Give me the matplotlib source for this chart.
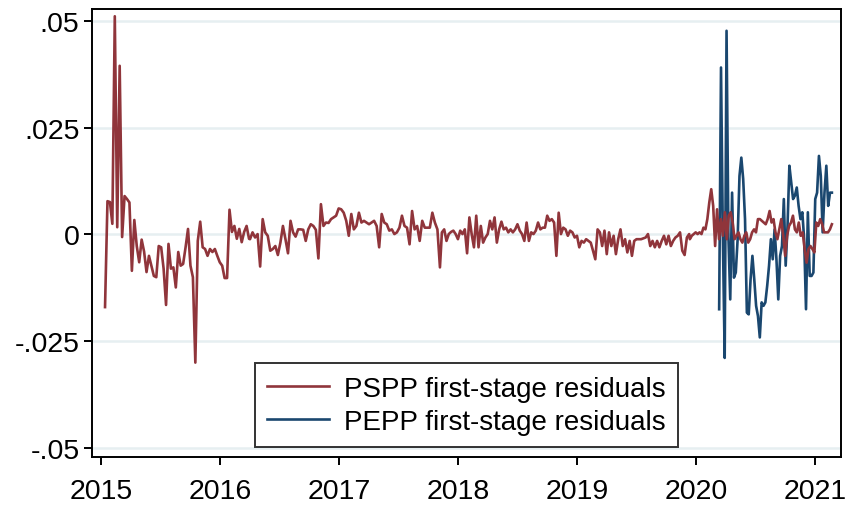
import numpy as np
import pandas as pd
import matplotlib
matplotlib.use("Agg")
import matplotlib.pyplot as plt

# PSPP first-stage residuals in four stretches (start, end, values)
pspp_1 = ("2015-01-13", "2016-03-30",
          [-0.017, 0.0078, 0.0076, 0.0025, 0.0511, 0.0017, 0.0395, -0.0006, 0.009, 0.0083,
           0.0075, -0.0085, 0.0034, -0.0027, -0.0065, -0.0012, -0.004, -0.0088, -0.005, -0.0073,
           -0.0097, -0.010, -0.0027, -0.003, -0.008, -0.0165, -0.0022, -0.008, -0.0077, -0.0124,
           -0.0041, -0.0073, -0.0069, -0.003, 0.0013, -0.0073, -0.010, -0.030, -0.0015, 0.003,
           -0.003, -0.0034, -0.005, -0.0034, -0.0041, -0.0034, -0.005, -0.0065, -0.0073, -0.0102,
           -0.0102, 0.0058, 0.0006, 0.002, -0.001, 0.0013, -0.0018, 0.0006, 0.002, -0.001])
pspp_2 = ("2016-04-02", "2017-11-06",
          [-0.0011, 0.0005, -0.0007, 0.0001, -0.0075, 0.0036, 0.0005, -0.0003, -0.0038, -0.0034,
           -0.0027, -0.0048, -0.0019, 0.002, -0.0011, -0.0044, 0.0032, 0.0005, -0.0005, 0.0012,
           0.0012, 0.0011, -0.0015, 0.0012, 0.0024, 0.002, 0.0011, -0.0056, 0.0071, 0.002,
           0.0028, 0.0027, 0.0036, 0.004, 0.0044, 0.0061, 0.0059, 0.0051, 0.0032, -0.0003,
           0.0048, 0.0012, 0.002, 0.0051, 0.0028, 0.0032, 0.0028, 0.0024, 0.0028, 0.0032,
           0.002, -0.003, 0.0048, 0.0028, 0.0024, 0.0009, 0.0012, 0.0001, 0.0005, 0.0016,
           0.0044, 0.002, 0.0016, -0.0023, 0.0055, 0.0012, 0.002, -0.0015, 0.0032, 0.0016,
           0.0016, 0.0016, 0.0051, 0.0028, 0.0012, -0.0077])
pspp_3 = ("2017-11-12", "2019-12-11",
          [0.0005, 0.0012, -0.0015, 0.0001, 0.0006, 0.0009, 0.0001, -0.0011, 0.0009, 0.0001,
           0.0012, -0.0044, 0.004, 0.0001, -0.003, 0.0044, -0.003, 0.002, -0.0019, -0.0007,
           0.0001, 0.0032, 0.0012, 0.004, -0.0019, 0.0012, 0.003, 0.0012, 0.0016, 0.0005,
           0.0012, 0.0005, 0.0012, 0.0024, 0.0009, 0.0001, -0.0015, 0.0028, -0.0015, 0.0005,
           0.0001, 0.0009, 0.0028, 0.0012, 0.0016, 0.0016, 0.0044, 0.0032, 0.0036, 0.0028,
           -0.005, 0.0051, 0.0001, 0.0016, 0.0012, -0.0003, 0.0009, 0.0005, -0.0007, -0.0003,
           -0.003, -0.0015, -0.0019, -0.0011, -0.0015, -0.0019, -0.0038, -0.0058, 0.0012, 0.0005,
           -0.0027, 0.0009, -0.0046, 0.0005, -0.0027, -0.0003, -0.0046, -0.0011, 0.0012, -0.0027,
           -0.0011, -0.0042, -0.0015, -0.005, -0.0015, -0.0011, -0.0011, -0.0011, -0.0009, -0.0007,
           0.0001, -0.0027, -0.0015, -0.003, -0.0015, -0.003, -0.0015, -0.0003, -0.0023, -0.0003,
           -0.0027, -0.0015, -0.0007, -0.0003, 0.0005, -0.0038, -0.0048, -0.0007, 0.0001])
pspp_4 = ("2019-12-13", "2021-02-21",
          [-0.0011, -0.0003, 0.0001, 0.0005, 0.0001, 0.0005, 0.0001, 0.0016, 0.0012, 0.0036,
           0.0075, 0.0106, 0.0067, -0.0027, 0.0059, -0.0011, 0.0036, -0.0003, 0.0052, -0.0011,
           0.0044, 0.0052, 0.0028, -0.0011, -0.0003, 0.0005, -0.0011, -0.0019, -0.0003, 0.0005,
           -0.0019, -0.0011, 0.0005, 0.0012, 0.0005, 0.0036, 0.0036, 0.0032, 0.0028, 0.0024,
           0.0036, 0.0055, 0.0028, 0.0036, 0.0005, -0.0011, 0.0012, 0.0036, -0.0003, -0.005,
           -0.0003, 0.002, 0.0028, 0.0044, 0.0012, 0.0005, 0.0028, -0.0003, 0.0005, -0.0034,
           -0.0066, -0.0034, -0.0027, -0.0034, -0.0042, 0.0028, 0.002, 0.0036, 0.0024, 0.0005,
           0.0005, 0.0005, 0.0012, 0.0024])

# PEPP first-stage residuals
pepp = ("2020-03-12", "2021-02-21",
        [-0.0175, 0.0391, -0.0003, -0.0289, 0.0477, -0.0003, -0.0152, 0.0098, -0.0101, -0.0089,
         -0.0011, 0.0137, 0.018, 0.013, 0.0036, -0.0183, -0.0187, -0.0105, -0.005, -0.0105,
         -0.0167, -0.0191, -0.0241, -0.0159, -0.0167, -0.0159, -0.012, -0.0073, -0.0011, -0.0058,
         0.0012, -0.0058, -0.0152, -0.005, -0.0027, 0.0083, -0.0073, 0.002, 0.0161, 0.0122,
         0.0083, 0.0091, 0.011, 0.0067, 0.0036, 0.0052, -0.0011, -0.0175, 0.0052, -0.0097,
         -0.0097, -0.0089, 0.0083, 0.0098, 0.0184, 0.0137, 0.0005, 0.0098, 0.0161, 0.0067,
         0.0098, 0.0098])

y_ticks = [-0.05, -0.025, 0, 0.025, 0.05]
y_ticklabels = ["-.05", "-.025", "0", ".025", ".05"]
x_years = [2015, 2016, 2017, 2018, 2019, 2020, 2021]


def to_series(chunk):
    start, end, vals = chunk
    d = pd.date_range(start, end, periods=len(vals))
    return pd.Series(vals, index=d)


pspp_s = pd.concat([to_series(c) for c in (pspp_1, pspp_2, pspp_3, pspp_4)])
pepp_s = to_series(pepp)

plt.rcParams['font.family'] = ['Liberation Sans', 'DejaVu Sans']
red = '#90353B'
blue = '#1A476F'
grid_col = '#E6EFF1'

fig = plt.figure(figsize=(8.47, 5.10), dpi=100)
ax = fig.add_axes([92/847, 1 - 458/510, (841-92)/847, (458-10)/510])

for yv in y_ticks:
    ax.axhline(yv, color=grid_col, lw=1.8, zorder=0)

ax.plot(pspp_s.index, pspp_s.values, color=red, lw=1.9, label='PSPP first-stage residuals', zorder=3)
ax.plot(pepp_s.index, pepp_s.values, color=blue, lw=1.9, label='PEPP first-stage residuals', zorder=2)

ax.set_ylim(-0.0521, 0.0528)
ax.set_xlim(pd.Timestamp('2014-12-04'), pd.Timestamp('2021-03-21'))
ax.set_yticks(y_ticks)
ax.set_yticklabels(y_ticklabels)
ax.set_xticks([pd.Timestamp(f'{y}-01-01') for y in x_years])
ax.set_xticklabels([str(y) for y in x_years])
ax.tick_params(axis='both', direction='out', length=6, width=1.4, labelsize=20.5, color='black')
ax.tick_params(axis='x', pad=9)
ax.tick_params(axis='y', pad=3)
for sp in ax.spines.values():
    sp.set_color('black')
    sp.set_linewidth(1.4)

leg = ax.legend(loc='lower center', bbox_to_anchor=(0.5, 0.022), borderaxespad=0,
                fontsize=20, frameon=True, fancybox=False, handlelength=2.2,
                handletextpad=0.55, labelspacing=0.25, borderpad=0.45)
leg.get_frame().set_edgecolor('black')
leg.get_frame().set_linewidth(1.4)

fig.savefig('out.png', dpi=100)
